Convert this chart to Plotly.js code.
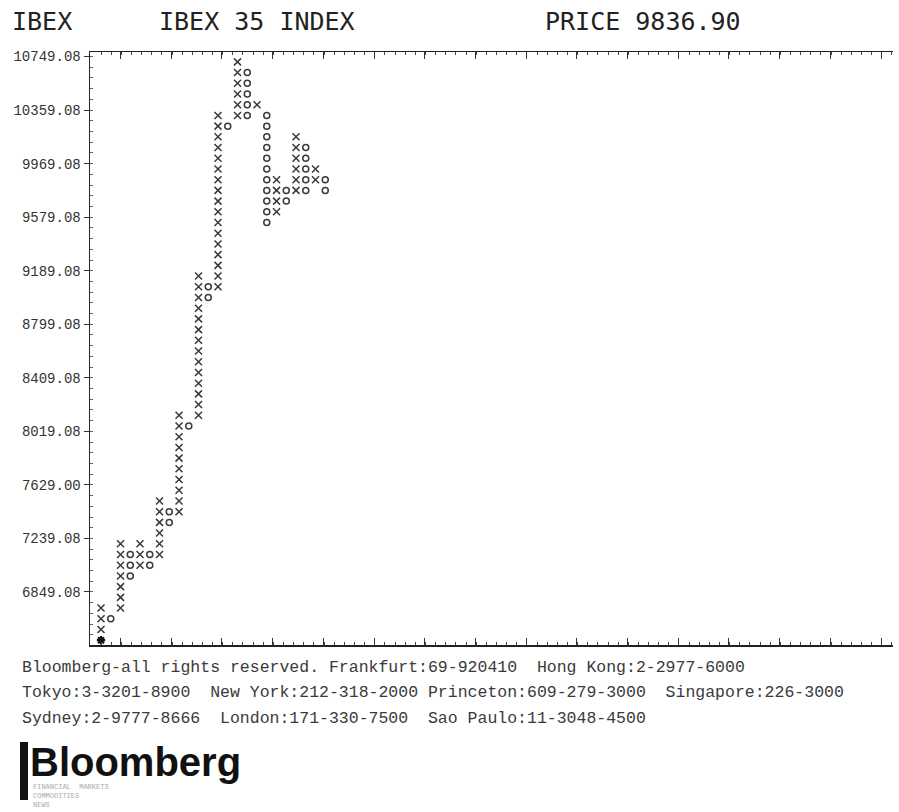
<!DOCTYPE html>
<html>
<head>
<meta charset="utf-8">
<script src="https://cdn.plot.ly/plotly-3.0.1.min.js"></script>
<style>
  html, body { margin: 0; padding: 0; background: #fff; }
  #chart { width: 899px; height: 812px; }
</style>
</head>
<body>
<div id="chart"></div>
<script>
// ---- Point & figure data ----
const boxSize = 78;
const colType = ['X','O','X','O','X','O','X','O','X','O','X','O','X','O','X','O','X','O','X','O','X','O','X','O'];
const colLow  = [6498.08, 6654.08, 6732.08, 6966.08, 7044.08, 7044.08, 7122.08, 7356.08,
                 7434.08, 8058.08, 8136.08, 8994.08, 9072.08, 10242.08, 10320.08, 10320.08,
                 10398.08, 9540.08, 9618.08, 9696.08, 9774.08, 9774.08, 9852.08, 9774.08];
const colHigh = [6732.08, 6654.08, 7200.08, 7122.08, 7200.08, 7122.08, 7512.08, 7434.08,
                 8136.08, 8058.08, 9150.08, 9072.08, 10320.08, 10242.08, 10710.08, 10632.08,
                 10398.08, 10320.08, 9852.08, 9774.08, 10164.08, 10086.08, 9930.08, 9852.08];
const yTickVals = [6849.08, 7239.08, 7629.08, 8019.08, 8409.08, 8799.08, 9189.08, 9579.08, 9969.08, 10359.08, 10749.08];
const yTickText = ['6849.08', '7239.08', '7629.00', '8019.08', '8409.08', '8799.08', '9189.08', '9579.08', '9969.08', '10359.08', '10749.08'];

const headerLeft = 'IBEX';
const headerMid = 'IBEX 35 INDEX';
const headerRight = 'PRICE 9836.90';
const footerLines = [
  'Bloomberg-all rights reserved. Frankfurt:69-920410  Hong Kong:2-2977-6000',
  'Tokyo:3-3201-8900  New York:212-318-2000 Princeton:609-279-3000  Singapore:226-3000',
  'Sydney:2-9777-8666  London:171-330-7500  Sao Paulo:11-3048-4500'
];

// ---- Build marks from columns ----
const xX = [], yX = [], xO = [], yO = [], xS = [], yS = [];
colType.forEach((t, i) => {
  for (let p = colLow[i]; p <= colHigh[i] + 1e-6; p += boxSize) {
    const v = Math.round(p * 100) / 100;
    if (i === 0 && p === colLow[0]) { xS.push(i); yS.push(v); continue; }
    if (t === 'X') { xX.push(i); yX.push(v); } else { xO.push(i); yO.push(v); }
  }
});

const markColor = '#3a3a3a';
const traces = [
  { type: 'scatter', mode: 'markers', x: xX, y: yX, hoverinfo: 'skip',
    marker: { symbol: 'x-thin-open', size: 7, color: markColor, line: { width: 1.5, color: markColor } } },
  { type: 'scatter', mode: 'markers', x: xO, y: yO, hoverinfo: 'skip',
    marker: { symbol: 'circle-open', size: 6, color: markColor, line: { width: 1.5, color: markColor } } },
  { type: 'scatter', mode: 'markers', x: xS, y: yS, hoverinfo: 'skip',
    marker: { symbol: 'asterisk-open', size: 7, color: '#111', line: { width: 2.2, color: '#111' } } }
];

const L = 90, R = 6, T = 52, B = 167;
const W = 899 - L - R, H = 812 - T - B;
const px = v => (v - L) / W;          // pixel x -> paper
const py = v => (812 - B - v) / H;    // pixel y -> paper

const mono = 'Liberation Mono, DejaVu Sans Mono, monospace';
const annotations = [
  { text: headerLeft, x: px(10), y: py(21), xanchor: 'left', yanchor: 'middle' },
  { text: headerMid, x: px(157), y: py(21), xanchor: 'left', yanchor: 'middle' },
  { text: headerRight, x: px(543), y: py(21), xanchor: 'left', yanchor: 'middle' }
].map(a => Object.assign(a, { xref: 'paper', yref: 'paper', showarrow: false,
  font: { family: 'DejaVu Sans Mono, monospace', size: 25, color: '#222' } }));

footerLines.forEach((t, i) => {
  annotations.push({ text: t, xref: 'paper', yref: 'paper', x: px(20), y: py(667 + i * 25.5),
    xanchor: 'left', yanchor: 'middle', showarrow: false, align: 'left',
    font: { family: mono, size: 16.5, color: '#3a3a3a' } });
});
annotations.push({ text: 'Bloomberg', xref: 'paper', yref: 'paper', x: px(28), y: py(762),
  xanchor: 'left', yanchor: 'middle', showarrow: false,
  font: { family: 'Liberation Sans, Arial, sans-serif', size: 40, color: '#111', weight: 'bold' } });
annotations.push({ text: 'FINANCIAL  MARKETS<br>COMMODITIES<br>NEWS', xref: 'paper', yref: 'paper',
  x: px(31), y: py(781), xanchor: 'left', yanchor: 'top', showarrow: false, align: 'left',
  font: { family: mono, size: 7, color: '#aaa' } });

const layout = {
  width: 899, height: 812,
  margin: { l: L, r: R, t: T, b: B, pad: 0 },
  paper_bgcolor: '#fff', plot_bgcolor: '#fff',
  showlegend: false,
  xaxis: {
    range: [-1.13, 81.23], showgrid: false, zeroline: false,
    showline: true, linecolor: '#222', linewidth: 1.5, mirror: 'allticks',
    ticks: 'inside', ticklen: 7, tickcolor: '#333', tickwidth: 1,
    tick0: 7.2, dtick: 5.2, showticklabels: false,
    minor: { ticks: 'inside', ticklen: 3, dtick: 1.04, tickcolor: '#444', tickwidth: 1 }
  },
  yaxis: {
    range: [6463, 10782], showgrid: false, zeroline: false,
    showline: true, linecolor: '#222', linewidth: 1.5,
    ticks: 'outside', ticklen: 5, tickcolor: '#333', tickwidth: 1,
    tickmode: 'array', tickvals: yTickVals, ticktext: yTickText,
    tickfont: { family: mono, size: 14, color: '#333' },
    minor: { ticks: 'inside', ticklen: 3, tickmode: 'linear', dtick: 78, tick0: 6849.08, tickcolor: '#666', tickwidth: 1 }
  },
  shapes: [
    { type: 'rect', xref: 'paper', yref: 'paper', x0: px(20), x1: px(28), y0: py(800), y1: py(742),
      fillcolor: '#111', line: { width: 0 } }
  ],
  annotations: annotations
};

Plotly.newPlot('chart', traces, layout, { displayModeBar: false, staticPlot: true });
</script>
</body>
</html>
